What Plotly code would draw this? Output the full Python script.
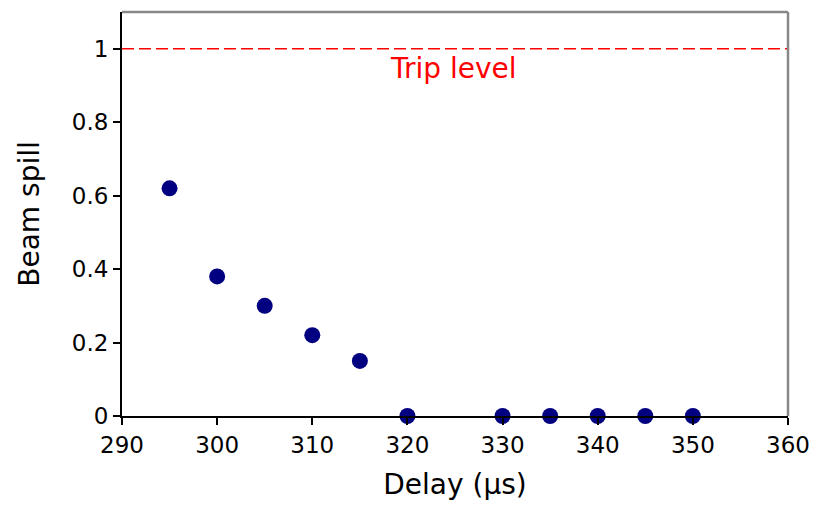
import plotly.graph_objects as go

# Beam spill measured against trigger delay
delay_us = [295, 300, 305, 310, 315, 320, 330, 335, 340, 345, 350]
beam_spill = [0.62, 0.38, 0.30, 0.22, 0.15, 0, 0, 0, 0, 0, 0]
trip_level = 1.0

x_ticks = [290, 300, 310, 320, 330, 340, 350, 360]
y_ticks = [0, 0.2, 0.4, 0.6, 0.8, 1]
y_tick_text = ['0', '0.2', '0.4', '0.6', '0.8', '1']

font = 'DejaVu Sans'

fig = go.Figure()

fig.add_trace(go.Scatter(
    x=[x_ticks[0], x_ticks[-1]], y=[trip_level, trip_level],
    mode='lines', line=dict(color='red', width=1.5, dash='12px,5px'),
    hoverinfo='skip', showlegend=False))

fig.add_trace(go.Scatter(
    x=delay_us, y=beam_spill, mode='markers',
    marker=dict(color='#000080', size=16),
    cliponaxis=False, showlegend=False))

fig.add_annotation(x=324.8, y=trip_level, yshift=-20, text='Trip level',
                   showarrow=False, font=dict(family=font, size=28, color='red'))

# grey top and right frame
fig.add_shape(type='line', xref='paper', yref='paper', x0=0, x1=1, y0=1, y1=1,
              line=dict(color='#888888', width=2.5))
fig.add_shape(type='line', xref='paper', yref='paper', x0=1, x1=1, y0=0, y1=1,
              line=dict(color='#888888', width=2.5))

fig.update_layout(
    width=830, height=514,
    margin=dict(l=114, r=50, t=4, b=106),
    plot_bgcolor='white', paper_bgcolor='white',
    font=dict(family=font, size=23, color='black'),
    xaxis=dict(range=[290, 360], tickvals=x_ticks, showgrid=False, zeroline=False,
               showline=True, linecolor='black', linewidth=2,
               ticks='outside', ticklen=7, tickwidth=1.5, tickcolor='black',
               title=dict(text='Delay (µs)', font=dict(size=28), standoff=18)),
    yaxis=dict(range=[0, 1.1], tickvals=y_ticks, ticktext=y_tick_text,
               showgrid=False, zeroline=False,
               showline=True, linecolor='black', linewidth=2,
               ticks='outside', ticklen=7, tickwidth=1.5, tickcolor='black',
               title=dict(text='Beam spill', font=dict(size=28), standoff=24)),
)

fig.write_html('out.html')
